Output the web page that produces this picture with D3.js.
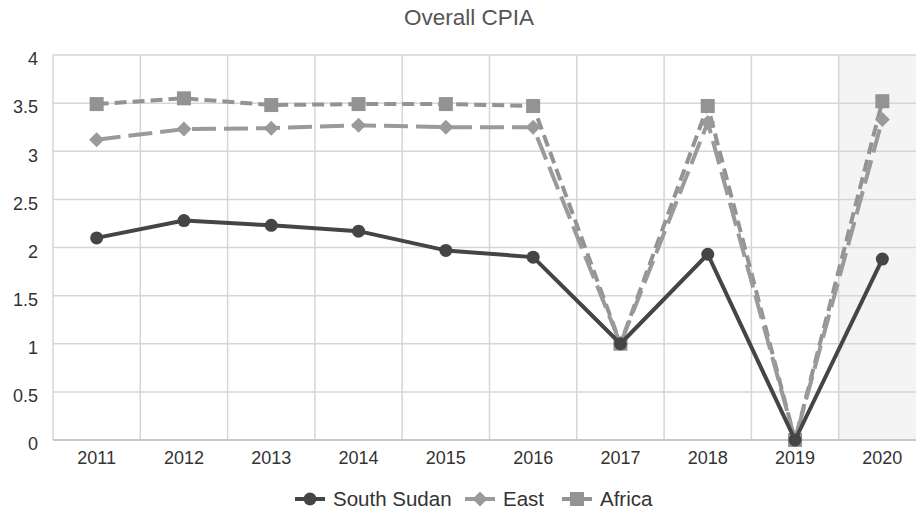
<!DOCTYPE html>
<html><head><meta charset="utf-8">
<script src="https://cdn.jsdelivr.net/npm/d3@7"></script>
<style>body{margin:0;background:#fff}svg{display:block;font-family:"Liberation Sans",Arial,sans-serif}</style>
</head><body><svg id="c" width="916" height="513"></svg>
<script>
const years = ["2011","2012","2013","2014","2015","2016","2017","2018","2019","2020"];
const southSudan = [2.1, 2.28, 2.23, 2.17, 1.97, 1.9, 1.0, 1.93, 0, 1.88];
const east = [3.12, 3.23, 3.24, 3.27, 3.25, 3.25, 1.0, 3.3, 0, 3.33];
const africa = [3.49, 3.55, 3.48, 3.49, 3.49, 3.47, 1.0, 3.47, 0, 3.52];
const yTicks = [0, 0.5, 1, 1.5, 2, 2.5, 3, 3.5, 4];
const title = "Overall CPIA";

const svg = d3.select("#c");
const L = 53, R = 926, T = 55, B = 440;
const x = d3.scaleBand().domain(years).range([L, R]);
const y = d3.scaleLinear().domain([0, 4]).range([B, T]);
const FONT = "Liberation Sans, Arial, sans-serif";

// shaded last band
svg.append("rect").attr("x", x("2020")).attr("y", T).attr("width", x.bandwidth()).attr("height", B - T).attr("fill", "#f4f4f4");

// grid
const g = svg.append("g");
g.selectAll(".h").data(yTicks).join("line").attr("x1", L).attr("x2", R).attr("y1", d => y(d)).attr("y2", d => y(d)).attr("stroke", "#d6d6d6").attr("stroke-width", 1.5);
g.selectAll(".v").data(years).join("line").attr("x1", d => x(d)).attr("x2", d => x(d)).attr("y1", T).attr("y2", B).attr("stroke", "#d6d6d6").attr("stroke-width", 1.5);
g.append("line").attr("x1", L).attr("x2", R).attr("y1", B).attr("y2", B).attr("stroke", "#c8c8c8").attr("stroke-width", 2);

// axes labels
const ya = d3.axisLeft(y).tickValues(yTicks).tickSize(0).tickPadding(15).tickFormat(d3.format("~g"));
svg.append("g").attr("transform", `translate(${L},4)`).call(ya).call(s => { s.select(".domain").remove(); s.attr("font-size", 18).attr("font-family", FONT); s.selectAll("text").attr("fill", "#333"); });
const xa = d3.axisBottom(x).tickSize(0).tickPadding(11);
svg.append("g").attr("transform", `translate(0,${B})`).call(xa).call(s => { s.select(".domain").remove(); s.attr("font-size", 18).attr("font-family", FONT); s.selectAll("text").attr("fill", "#333"); });

const cx = d => x(d) + x.bandwidth() / 2;
const line = d3.line().x(d => cx(d.k)).y(d => y(d.v));
const mk = arr => years.map((k, i) => ({k, v: arr[i]}));

const series = [
  {name: "South Sudan", data: southSudan, color: "#454545", dash: null, w: 4, shape: "circle", lx: 310},
  {name: "East", data: east, color: "#9a9a9a", dash: "24,8", w: 4, shape: "diamond", lx: 480},
  {name: "Africa", data: africa, color: "#939393", dash: "12,6", w: 4, shape: "square", lx: 577}
];

function marker(sel, shape, color, px, py) {
  if (shape === "circle") sel.append("circle").attr("cx", px).attr("cy", py).attr("r", 6.5).attr("fill", color);
  else if (shape === "diamond") sel.append("path").attr("d", `M${px},${py-7.5}L${px+7.5},${py}L${px},${py+7.5}L${px-7.5},${py}Z`).attr("fill", color);
  else sel.append("rect").attr("x", px - 7).attr("y", py - 7).attr("width", 14).attr("height", 14).attr("fill", color);
}

[...series].reverse().forEach(s => {
  const gs = svg.append("g");
  gs.append("path").datum(mk(s.data)).attr("d", line).attr("fill", "none").attr("stroke", s.color).attr("stroke-width", s.w).attr("stroke-dasharray", s.dash).attr("stroke-linejoin", "round");
  mk(s.data).forEach(d => marker(gs, s.shape, s.color, cx(d.k), y(d.v)));
});

// title
svg.append("text").attr("x", 469).attr("y", 25).attr("text-anchor", "middle").attr("font-size", 22.5).attr("font-family", FONT).attr("fill", "#555").text(title);

// legend
series.forEach(s => {
  const lg = svg.append("g");
  const lx = s.lx, ly = 499;
  lg.append("line").attr("x1", lx - 15).attr("x2", lx + 15).attr("y1", ly).attr("y2", ly).attr("stroke", s.color).attr("stroke-width", 4);
  marker(lg, s.shape, s.color, lx, ly);
  lg.append("text").attr("x", lx + 23).attr("y", ly + 7).attr("font-size", 20.5).attr("font-family", FONT).attr("fill", "#333").text(s.name);
});
</script></body></html>
